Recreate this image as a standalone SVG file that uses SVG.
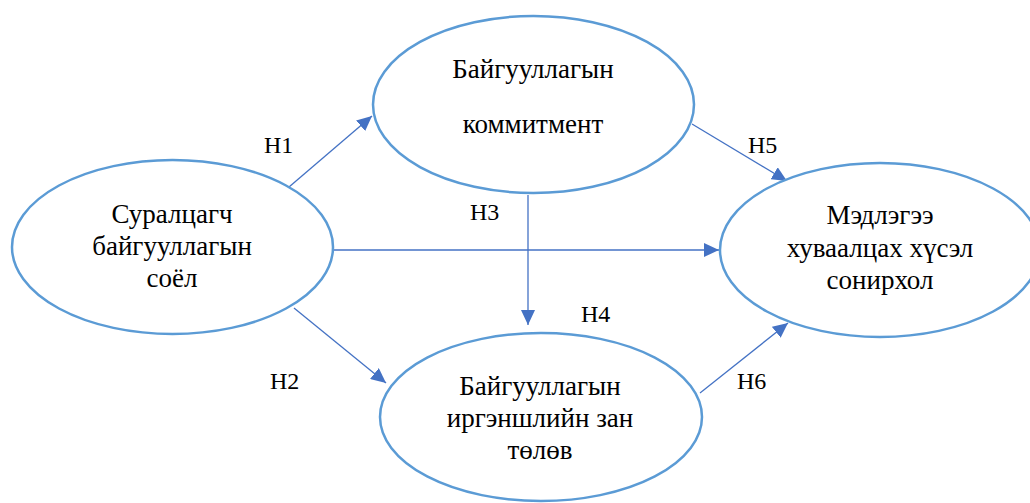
<svg xmlns="http://www.w3.org/2000/svg" width="1030" height="503" viewBox="0 0 1030 503">
  <defs>
    <marker id="arrow" viewBox="0 0 15 14" refX="15" refY="7" markerWidth="15" markerHeight="14" markerUnits="userSpaceOnUse" orient="auto">
      <path d="M0,0 L15,7 L0,14 z" fill="#4472C4"/>
    </marker>
    <style>
      .node ellipse { fill: #FFFFFF; stroke: #5B9BD5; stroke-width: 2.5; }
      .node text { font-size: 27px; fill: #000000; text-anchor: middle; }
      .edge { stroke: #4472C4; stroke-width: 1.3; fill: none; marker-end: url(#arrow); }
      .label { font-size: 24px; fill: #000000; }
    </style>
  </defs>
  <rect width="1030" height="503" fill="#FFFFFF"/>

  <g id="connectors">
    <line class="edge" x1="289" y1="187" x2="372" y2="116"/>
    <line class="edge" x1="692" y1="124" x2="787" y2="181"/>
    <line class="edge" x1="334" y1="250" x2="719" y2="250"/>
    <line class="edge" x1="528" y1="195" x2="528" y2="325"/>
    <line class="edge" x1="294" y1="308" x2="386" y2="383"/>
    <line class="edge" x1="700" y1="393" x2="788" y2="323"/>
  </g>

  <g id="labels">
    <text class="label" font-family="Liberation Serif" x="264" y="153">H1</text>
    <text class="label" font-family="Liberation Serif" x="748" y="153">H5</text>
    <text class="label" font-family="Liberation Serif" x="470" y="220">H3</text>
    <text class="label" font-family="Liberation Serif" x="581" y="322">H4</text>
    <text class="label" font-family="Liberation Serif" x="270" y="389">H2</text>
    <text class="label" font-family="Liberation Serif" x="737" y="389">H6</text>
  </g>

  <g id="node-culture" class="node">
    <ellipse cx="172.5" cy="247" rx="160.5" ry="87"/>
    <text font-family="Liberation Serif" x="172" y="223">Суралцагч</text>
    <text font-family="Liberation Serif" x="172" y="255">байгууллагын</text>
    <text font-family="Liberation Serif" x="172" y="287">соёл</text>
  </g>

  <g id="node-commitment" class="node">
    <ellipse cx="533.5" cy="104.5" rx="160.5" ry="88.5"/>
    <text font-family="Liberation Serif" x="533" y="78">Байгууллагын</text>
    <text font-family="Liberation Serif" x="533" y="133">коммитмент</text>
  </g>

  <g id="node-sharing" class="node">
    <ellipse cx="880" cy="250" rx="160" ry="87"/>
    <text font-family="Liberation Serif" x="880" y="224">Мэдлэгээ</text>
    <text font-family="Liberation Serif" x="880" y="257">хуваалцах хүсэл</text>
    <text font-family="Liberation Serif" x="880" y="289">сонирхол</text>
  </g>

  <g id="node-citizenship" class="node">
    <ellipse cx="541" cy="417" rx="161" ry="84"/>
    <text font-family="Liberation Serif" x="540" y="395">Байгууллагын</text>
    <text font-family="Liberation Serif" x="540" y="427">иргэншлийн зан</text>
    <text font-family="Liberation Serif" x="540" y="459">төлөв</text>
  </g>
</svg>
